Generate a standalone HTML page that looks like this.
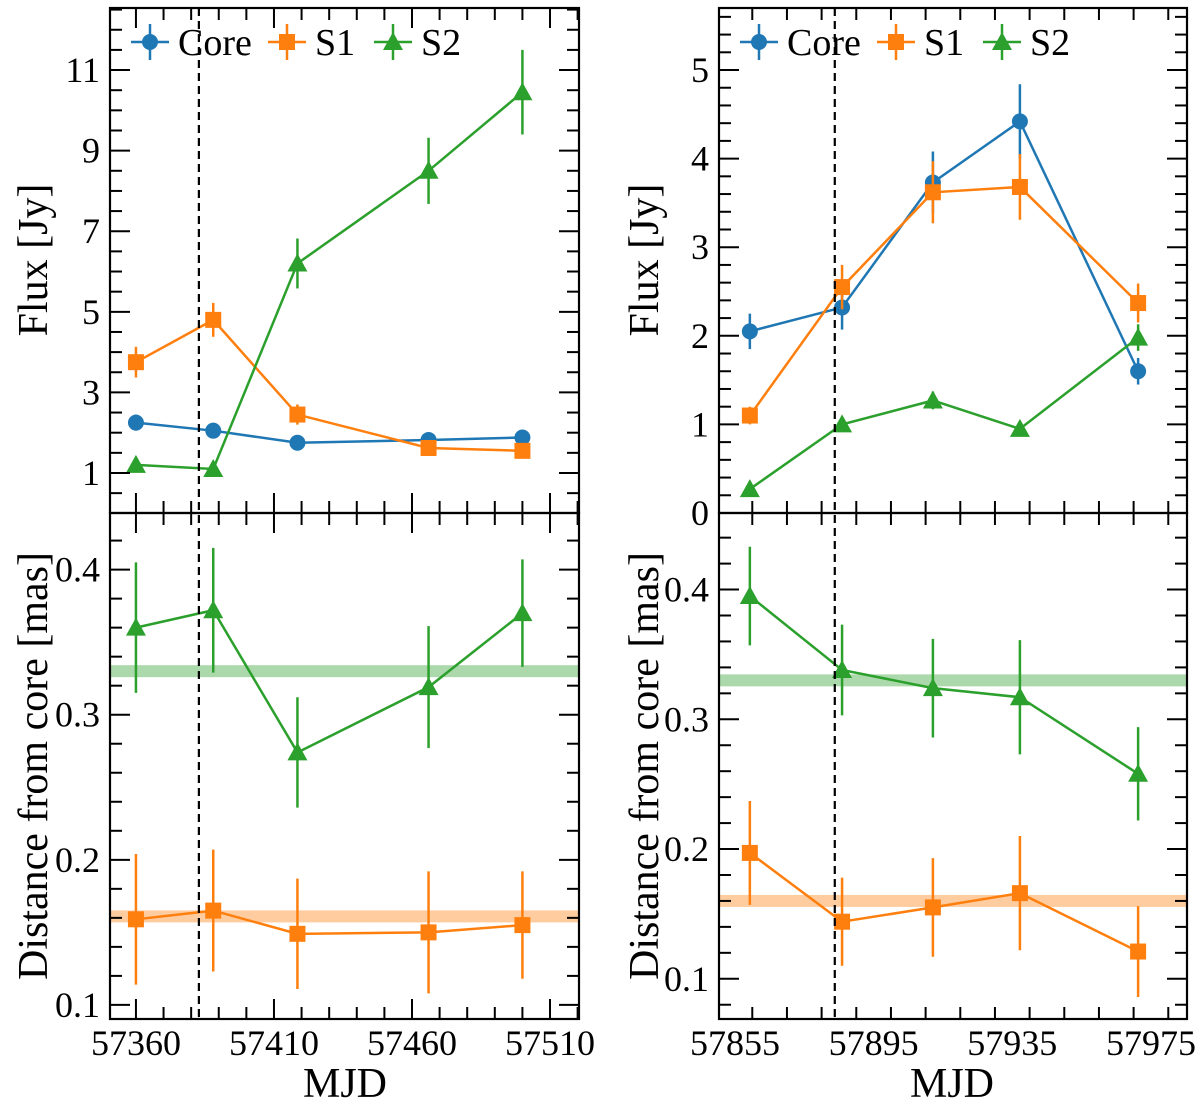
<!DOCTYPE html>
<html><head><meta charset="utf-8"><style>
body{margin:0;background:#fff}
svg{display:block;font-family:"Liberation Serif",serif}
</style></head><body>
<svg id="chart" width="1200" height="1106" xmlns="http://www.w3.org/2000/svg"></svg>
<script>
const leftDates=[57360,57388,57418.5,57466,57500];
const leftCore=[2.25,2.05,1.75,1.82,1.88];
const leftCoreErr=[0.2,0.18,0.15,0.15,0.15];
const leftS1=[3.75,4.8,2.45,1.62,1.55];
const leftS1Err=[0.38,0.42,0.25,0.15,0.15];
const leftS2=[1.2,1.1,6.2,8.5,10.45];
const leftS2Err=[0.15,0.15,0.62,0.82,1.05];
const leftDS2=[0.36,0.372,0.274,0.319,0.37];
const leftDS2Err=[0.045,0.043,0.038,0.042,0.037];
const leftDS1=[0.159,0.165,0.149,0.150,0.155];
const leftDS1Err=[0.045,0.042,0.038,0.042,0.037];
const leftVline=57382.8;
const rightDates=[57859.3,57885.9,57912.1,57937.2,57971.3];
const rightCore=[2.05,2.32,3.73,4.42,1.6];
const rightCoreErr=[0.2,0.25,0.35,0.42,0.15];
const rightS1=[1.1,2.55,3.62,3.68,2.37];
const rightS1Err=[0.1,0.25,0.35,0.37,0.22];
const rightS2=[0.27,1.0,1.27,0.95,1.98];
const rightS2Err=[0.04,0.08,0.1,0.08,0.15];
const rightDS2=[0.395,0.338,0.324,0.317,0.258];
const rightDS2Err=[0.038,0.035,0.038,0.044,0.036];
const rightDS1=[0.197,0.144,0.155,0.166,0.121];
const rightDS1Err=[0.04,0.034,0.038,0.044,0.035];
const rightVline=57883.8;
const leftXTicks=[57360,57410,57460,57510];
const rightXTicks=[57855,57895,57935,57975];
const leftFluxTicks=[1,3,5,7,9,11];
const rightFluxTicks=[0,1,2,3,4,5];
const distTicks=[0.1,0.2,0.3,0.4];
const bandS2=0.33, bandS1L=0.161, bandS1R=0.16;

const NS="http://www.w3.org/2000/svg";
const svg=document.getElementById('chart');
function el(t,a,p){const e=document.createElementNS(NS,t);for(const k in a)e.setAttribute(k,a[k]);(p||svg).appendChild(e);return e;}
const C={core:'#1f77b4',s1:'#ff7f0e',s2:'#2ca02c'};
function lin(d0,d1,r0,r1){return v=>r0+(v-d0)*(r1-r0)/(d1-d0);}
function marker(g,type,x,y,col){
  let m;
  if(type==='o')m=el('circle',{cx:x,cy:y,r:8,fill:col},g);
  else if(type==='s')m=el('rect',{x:x-8,y:y-8,width:16,height:16,fill:col},g);
  else m=el('polygon',{points:`${x},${y-10} ${x+10},${y+8} ${x-10},${y+8}`,fill:col},g);
  
  
}
function series(X,Y,dates,vals,errs,col,type,name){
  const g=el('g',{});
  
  
  el('polyline',{points:dates.map((d,i)=>X(d)+','+Y(vals[i])).join(' '),fill:'none',stroke:col,'stroke-width':2.5},g);
  dates.forEach((d,i)=>{
    el('line',{x1:X(d),x2:X(d),y1:Y(vals[i]-errs[i]),y2:Y(vals[i]+errs[i]),stroke:col,'stroke-width':2.5},g);
    marker(g,type,X(d),Y(vals[i]),col);
  });
}
function panel(x0,x1,y0,y1,X,Y,xd,yd,xMinor,yMinor,yTicks,yFmt,xTicks,showX,name){
  const g=el('g',{});
  
  
  for(let v=Math.ceil(xd[0]/xMinor)*xMinor;v<=xd[1];v+=xMinor){
    const x=X(v),maj=xTicks.includes(Math.round(v));
    el('line',{x1:x,x2:x,y1:y1,y2:y1-(maj?20:12),stroke:'#000','stroke-width':2},g);
    el('line',{x1:x,x2:x,y1:y0,y2:y0+(maj?20:12),stroke:'#000','stroke-width':2},g);
  }
  const n=Math.round((yd[1]-yd[0])/yMinor)+2;
  for(let k=-1;k<n;k++){
    const v=Math.ceil(yd[0]/yMinor)*yMinor+k*yMinor; if(v<yd[0]-1e-9||v>yd[1])continue;
    const y=Y(v),maj=yTicks.some(t=>Math.abs(t-v)<1e-6);
    el('line',{x1:x0,x2:x0+(maj?20:12),y1:y,y2:y,stroke:'#000','stroke-width':2},g);
    el('line',{x1:x1,x2:x1-(maj?20:12),y1:y,y2:y,stroke:'#000','stroke-width':2},g);
  }
  yTicks.forEach(t=>{const tx=el('text',{x:x0-10,y:Y(t)+12,'font-size':36,'text-anchor':'end'},g);tx.textContent=yFmt(t);
    });
  if(showX)xTicks.forEach(t=>{const tx=el('text',{x:X(t),y:y1+36,'font-size':36,'text-anchor':'middle'},g);tx.textContent=t;
    });
  el('rect',{x:x0,y:y0,width:x1-x0,height:y1-y0,fill:'none',stroke:'#000','stroke-width':2.2},g);
}
function legend(x,y){
  const g=el('g',{});
  
  
  [['Core',C.core,'o',0],['S1',C.s1,'s',137],['S2',C.s2,'^',243]].forEach(([t,c,m,dx])=>{
    const e=el('g',{},g);
    
    
    el('line',{x1:x+dx,x2:x+dx+38,y1:y,y2:y,stroke:c,'stroke-width':2.5},e);
    el('line',{x1:x+dx+19,x2:x+dx+19,y1:y-18,y2:y+18,stroke:c,'stroke-width':2.5},e);
    marker(e,m,x+dx+19,y,c);
    const tx=el('text',{x:x+dx+47,y:y+13,'font-size':38},e);tx.textContent=t;
  });
}
function ylabel(x,y,t){const tx=el('text',{x:x,y:y,'font-size':42,'text-anchor':'middle',transform:`rotate(-90 ${x} ${y})`});tx.textContent=t;
  }
function xlabel(x,y){const tx=el('text',{x:x,y:y,'font-size':42,'text-anchor':'middle'});tx.textContent='MJD';
  }
function band(x0,x1,Y,v,col,name){const r=el('rect',{x:x0,y:Y(v)-6,width:x1-x0,height:12,fill:col,opacity:0.4});
  }
function vline(X,v,y0,y1){const l=el('line',{x1:X(v),x2:X(v),y1:y0,y2:y1,stroke:'#000','stroke-width':2.2,'stroke-dasharray':'8,5'});
  }

const LX=lin(57350.6,57520.5,110,579);
const LYf=lin(0.007,12.54,513,8);
const LYd=lin(0.0903,0.439,1019,513);
series(LX,LYf,leftDates,leftCore,leftCoreErr,C.core,'o','left-core-flux');
series(LX,LYf,leftDates,leftS1,leftS1Err,C.s1,'s','left-s1-flux');
series(LX,LYf,leftDates,leftS2,leftS2Err,C.s2,'^','left-s2-flux');
band(110,579,LYd,bandS2,C.s2,'left-s2-band');
band(110,579,LYd,bandS1L,C.s1,'left-s1-band');
series(LX,LYd,leftDates,leftDS2,leftDS2Err,C.s2,'^','left-s2-distance');
series(LX,LYd,leftDates,leftDS1,leftDS1Err,C.s1,'s','left-s1-distance');
vline(LX,leftVline,8,1019);
panel(110,579,8,513,LX,LYf,[57350.6,57520.5],[0.007,12.54],10,0.5,leftFluxTicks,t=>t,leftXTicks,false,'left-flux-axes');
panel(110,579,513,1019,LX,LYd,[57350.6,57520.5],[0.0903,0.439],10,0.02,distTicks,t=>t.toFixed(1),leftXTicks,true,'left-distance-axes');
legend(131,42);
ylabel(47,260,'Flux [Jy]');ylabel(47,766,'Distance from core [mas]');xlabel(345,1097);

const RX=lin(57850.4,57985.4,719,1187);
const RYf=lin(0,5.7,513,8);
const RYd=lin(0.069,0.459,1019,513);
series(RX,RYf,rightDates,rightCore,rightCoreErr,C.core,'o','right-core-flux');
series(RX,RYf,rightDates,rightS1,rightS1Err,C.s1,'s','right-s1-flux');
series(RX,RYf,rightDates,rightS2,rightS2Err,C.s2,'^','right-s2-flux');
band(719,1187,RYd,bandS2,C.s2,'right-s2-band');
band(719,1187,RYd,bandS1R,C.s1,'right-s1-band');
series(RX,RYd,rightDates,rightDS2,rightDS2Err,C.s2,'^','right-s2-distance');
series(RX,RYd,rightDates,rightDS1,rightDS1Err,C.s1,'s','right-s1-distance');
vline(RX,rightVline,8,1019);
panel(719,1187,8,513,RX,RYf,[57850.4,57985.4],[0,5.7],10,0.2,rightFluxTicks,t=>t,rightXTicks,false,'right-flux-axes');
panel(719,1187,513,1019,RX,RYd,[57850.4,57985.4],[0.069,0.459],10,0.02,distTicks,t=>t.toFixed(1),rightXTicks,true,'right-distance-axes');
legend(740,42);
ylabel(658,260,'Flux [Jy]');ylabel(658,766,'Distance from core [mas]');xlabel(952,1097);
</script>
</body></html>
